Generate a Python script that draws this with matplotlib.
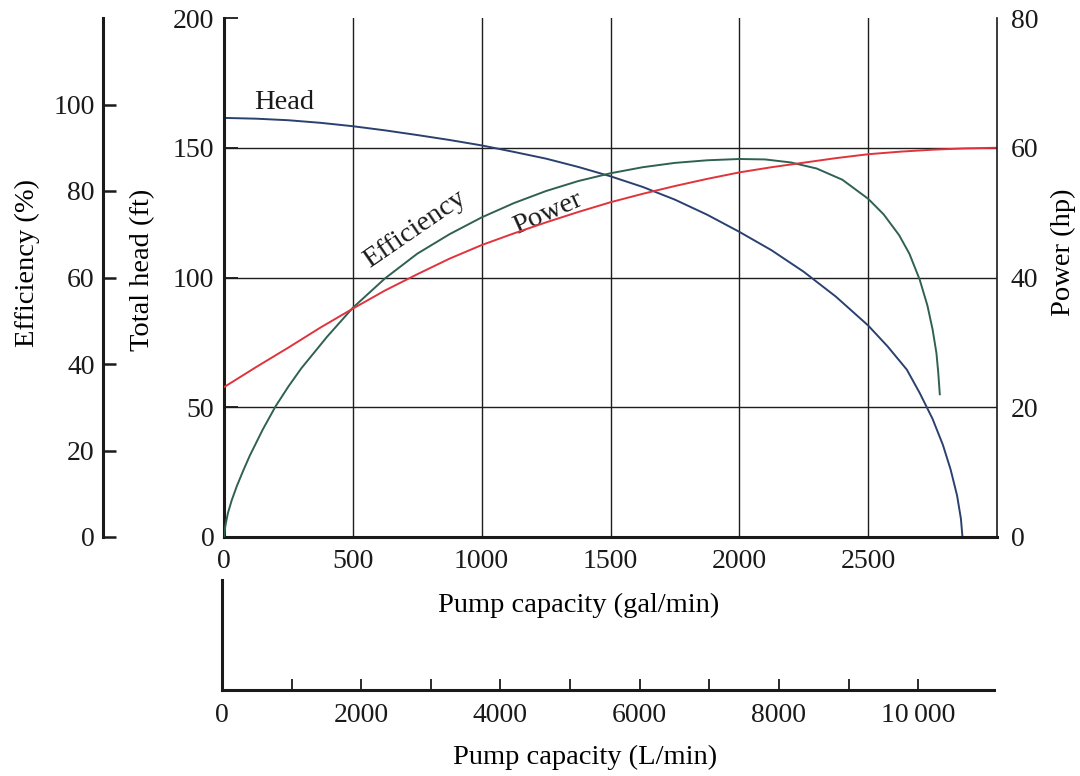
import matplotlib.pyplot as plt

plt.rcParams['font.family'] = ['Liberation Serif', 'DejaVu Serif']
plt.rcParams['font.size'] = 20
plt.rcParams['text.color'] = '#1a1a1a'
plt.rcParams['xtick.color'] = '#1a1a1a'
plt.rcParams['ytick.color'] = '#1a1a1a'

# pump curves, capacity in gal/min
head_gpm = [0, 125, 250, 375, 500, 625, 750, 875, 1000, 1125, 1250, 1375, 1500,
            1625, 1750, 1875, 2000, 2125, 2250, 2375, 2500, 2575, 2650, 2700,
            2750, 2790, 2820, 2845, 2860, 2866]
head_ft = [161.5, 161.2, 160.6, 159.6, 158.3, 156.7, 154.9, 153.0, 150.9, 148.4,
           145.8, 142.6, 139.0, 134.9, 130.0, 124.2, 117.6, 110.5, 102.2, 92.6,
           81.5, 73.5, 64.5, 55.5, 45.5, 35.5, 26.0, 16.0, 7.0, 0]

eff_gpm = [0, 5, 15, 30, 50, 75, 100, 150, 200, 250, 300, 400, 500, 625, 750, 875,
           1000, 1125, 1250, 1375, 1500, 1625, 1750, 1875, 2000, 2100, 2200, 2300,
           2400, 2500, 2560, 2620, 2660, 2700, 2730, 2750, 2765, 2772, 2778]
eff_pct = [0, 2.5, 5.5, 8.5, 11.8, 15.4, 18.8, 24.8, 30.2, 34.8, 39.0, 46.3, 53.0,
           59.8, 65.5, 70.0, 73.9, 77.2, 80.0, 82.3, 84.1, 85.5, 86.5, 87.1, 87.4,
           87.3, 86.6, 85.2, 82.6, 78.2, 74.6, 69.8, 65.5, 59.5, 53.5, 48.0, 42.5,
           38.0, 33.0]

pow_gpm = [0, 125, 250, 375, 500, 625, 750, 875, 1000, 1125, 1250, 1375, 1500,
           1625, 1750, 1875, 2000, 2125, 2250, 2375, 2500, 2625, 2750, 2875, 3000]
pow_hp = [23.1, 26.2, 29.2, 32.3, 35.2, 38.0, 40.5, 42.9, 45.0, 46.8, 48.5, 50.1,
          51.6, 52.9, 54.1, 55.2, 56.2, 57.0, 57.7, 58.4, 59.0, 59.4, 59.7, 59.9, 60.0]

gpm_ticks = [0, 500, 1000, 1500, 2000, 2500]
head_ticks = [0, 50, 100, 150, 200]
eff_ticks = [0, 20, 40, 60, 80, 100]
pow_ticks = [0, 20, 40, 60, 80]
lpm_ticks = [0, 2000, 4000, 6000, 8000, 10000]
lpm_labels = ['0', '2000', '4000', '6000', '8000', '10\u2009000']
lpm_minor = [1000, 3000, 5000, 7000, 9000]

c_head = '#2a4170'
c_eff = '#2f6152'
c_pow = '#e0333c'
ink = '#1a1a1a'

fig = plt.figure(figsize=(10.8, 7.76), dpi=100)
W, H = 1080, 776
ax = fig.add_axes([224 / W, 1 - 537 / H, 773 / W, 519 / H])

# head (left axis, ft)
ax.plot(head_gpm, head_ft, color=c_head, lw=1.4)
ax.set_xlim(0, 3000)
ax.set_ylim(0, 200)
ax.set_xticks(gpm_ticks)
ax.set_yticks(head_ticks)
ax.grid(True, color='#1e1e1e', lw=1.0)
ax.yaxis.get_gridlines()[-1].set_visible(False)
for s in ['top', 'right']:
    ax.spines[s].set_visible(False)
for s in ['left', 'bottom']:
    ax.spines[s].set_linewidth(2.2)
    ax.spines[s].set_color(ink)
ax.tick_params(axis='y', direction='in', length=10, width=1.3, pad=7)
ax.tick_params(axis='x', length=0, pad=9)
ax.set_ylabel('Total head (ft)', fontsize=20.5, va='center')
ax.yaxis.set_label_coords(-0.1048, 0.514)
ax.set_xlabel('Pump capacity (gal/min)', fontsize=20.5, va='center')
ax.xaxis.set_label_coords(0.459, -0.131)

ax.text(235, 167.6, 'Head', fontsize=20.5, ha='center', va='center')
ax.text(742, 118.5, 'Efficiency', fontsize=20.5, ha='center', va='center',
        rotation=34.5, rotation_mode='anchor')
ax.text(1256, 124.8, 'Power', fontsize=20.5, ha='center', va='center',
        rotation=24, rotation_mode='anchor')

# efficiency axis, offset far left
eff = ax.twinx()
eff.yaxis.tick_left()
eff.yaxis.set_label_position('left')
for s in ['top', 'right', 'bottom']:
    eff.spines[s].set_visible(False)
eff.spines['left'].set_visible(True)
eff.spines['left'].set_position(('axes', (103 - 224) / 773))
eff.spines['left'].set_linewidth(2.2)
eff.spines['left'].set_color(ink)
eff.set_ylim(0, 120)
eff.set_yticks(eff_ticks)
eff.tick_params(direction='in', length=9, width=1.8, pad=6)
eff.plot(eff_gpm, eff_pct, color=c_eff, lw=1.4)
eff.set_ylabel('Efficiency (%)', fontsize=20.5, va='center')
eff.yaxis.set_label_coords(-0.2549, 0.528)

# power axis on the right
pw = ax.twinx()
for s in ['top', 'left', 'bottom']:
    pw.spines[s].set_visible(False)
pw.spines['right'].set_linewidth(1.2)
pw.spines['right'].set_color(ink)
pw.set_ylim(0, 80)
pw.set_yticks(pow_ticks)
pw.tick_params(length=0, pad=10)
pw.plot(pow_gpm, pow_hp, color=c_pow, lw=1.4)
pw.set_ylabel('Power (hp)', fontsize=20.5, va='center')
pw.yaxis.set_label_coords(1.0854, 0.549)

# second capacity scale in L/min
lx = fig.add_axes([222 / W, 1 - 690 / H, 772 / W, 110 / H])
lx.patch.set_alpha(0)
lx.set_xlim(0, 11090)
lx.set_ylim(0, 1)
lx.set_yticks([])
for s in ['top', 'right']:
    lx.spines[s].set_visible(False)
for s in ['left', 'bottom']:
    lx.spines[s].set_linewidth(2.2)
    lx.spines[s].set_color(ink)
lx.set_xticks(lpm_ticks)
lx.set_xticklabels(lpm_labels)
lx.set_xticks(lpm_minor, minor=True)
lx.tick_params(axis='x', which='both', direction='in', length=8, width=1.3, pad=9)
lx.set_xlabel('Pump capacity (L/min)', fontsize=20.5, va='center')
lx.xaxis.set_label_coords(0.470, -0.609)

fig.savefig('out.png', dpi=100, facecolor='white')
